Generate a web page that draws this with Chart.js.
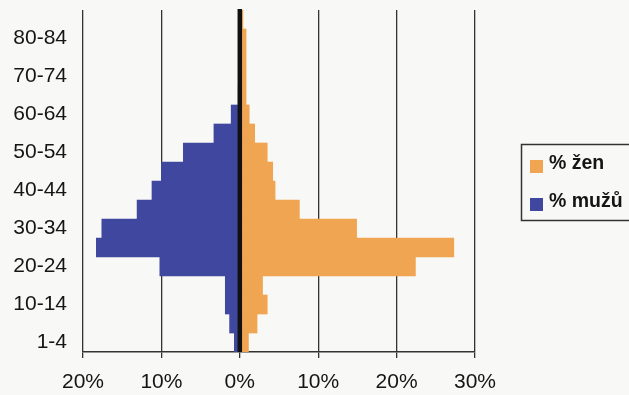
<!DOCTYPE html>
<html>
<head>
<meta charset="utf-8">
<script src="https://cdn.jsdelivr.net/npm/chart.js@4.4.1/dist/chart.umd.min.js"></script>
<style>
  html, body { margin: 0; padding: 0; background: #f8f8f6; }
  #wrap { width: 629px; height: 395px; position: relative; }
</style>
</head>
<body>
<div id="wrap"><canvas id="c"></canvas></div>
<script>
// Age groups, youngest first (drawn bottom to top)
const ageGroups = ['1-4','5-9','10-14','15-19','20-24','25-29','30-34','35-39','40-44',
                   '45-49','50-54','55-59','60-64','65-69','70-74','75-79','80-84','85+'];
// Share of men per age group, in percent
const menPct   = [0.7, 1.3, 1.85, 1.85, 10.2, 18.3, 17.6, 13.1, 11.2,
                  10.0, 7.2, 3.3, 1.1, 0.2, 0.15, 0.15, 0.15, 0.1];
// Share of women per age group, in percent
const womenPct = [1.1, 2.2, 3.5, 2.9, 22.4, 27.3, 14.9, 7.6, 4.5,
                  4.2, 3.5, 1.9, 1.2, 0.8, 0.8, 0.8, 0.8, 0.4];
const xTickValues = [-20, -10, 0, 10, 20, 30];
const seriesNames = ['% žen', '% mužů'];

const ORANGE = '#f0a552';
const BLUE = '#3f489e';
const FONT = "'Liberation Sans', Arial, sans-serif";

// Heavy vertical axis at 0 %, painted over the bars
const zeroAxis = {
  id: 'zeroAxis',
  afterDatasetsDraw(chart) {
    const { ctx, chartArea, scales } = chart;
    const x = scales.x.getPixelForValue(0);
    ctx.save();
    ctx.strokeStyle = '#111';
    ctx.lineWidth = 4.5;
    ctx.beginPath();
    ctx.moveTo(x, chartArea.top - 1);
    ctx.lineTo(x, chartArea.bottom);
    ctx.stroke();
    ctx.restore();
  }
};

// Boxed legend on the right, women first
const boxedLegend = {
  id: 'boxedLegend',
  afterDraw(chart) {
    const ctx = chart.ctx;
    const items = [chart.data.datasets[1], chart.data.datasets[0]];
    ctx.save();
    ctx.strokeStyle = '#333';
    ctx.lineWidth = 1.5;
    ctx.strokeRect(521.5, 144.5, 130, 76);
    ctx.font = 'bold 19.5px ' + FONT;
    ctx.textBaseline = 'middle';
    items.forEach((ds, i) => {
      const top = 160 + i * 38;
      ctx.fillStyle = ds.backgroundColor;
      ctx.fillRect(530, top, 13, 13);
      ctx.fillStyle = '#151515';
      ctx.fillText(ds.label, 549, top + 4);
    });
    ctx.restore();
  }
};

new Chart(document.getElementById('c'), {
  type: 'bar',
  data: {
    labels: ageGroups,
    datasets: [
      { label: seriesNames[1], data: menPct.map(v => -v), backgroundColor: BLUE,
        barPercentage: 1, categoryPercentage: 1, borderWidth: 0 },
      { label: seriesNames[0], data: womenPct, backgroundColor: ORANGE,
        barPercentage: 1, categoryPercentage: 1, borderWidth: 0 }
    ]
  },
  options: {
    indexAxis: 'y',
    responsive: true,
    maintainAspectRatio: false,
    animation: false,
    devicePixelRatio: 1,
    layout: { padding: { top: 10, right: 154, left: 0, bottom: 0 } },
    plugins: { legend: { display: false }, tooltip: { enabled: false } },
    scales: {
      x: {
        type: 'linear',
        stacked: true,
        min: xTickValues[0],
        max: xTickValues[xTickValues.length - 1],
        afterBuildTicks(scale) { scale.ticks = xTickValues.map(v => ({ value: v })); },
        afterFit(scale) {
          scale.height = 43;
          scale.paddingLeft = 0; scale.paddingRight = 0;
        },
        ticks: {
          callback: v => Math.abs(v) + '%',
          color: '#151515',
          font: { family: FONT, size: 21 },
          padding: 12,
          maxRotation: 0
        },
        grid: { color: '#333', lineWidth: 1.3, tickLength: 6, drawTicks: true },
        border: { display: true, color: '#333', width: 1.5 }
      },
      y: {
        type: 'category',
        stacked: true,
        reverse: true,
        afterFit(scale) {
          scale.width = 83;
          scale.paddingTop = 0; scale.paddingBottom = 0;
        },
        ticks: {
          autoSkip: false,
          callback: (v, i) => (i % 2 === 0 ? ageGroups[i] : ''),
          color: '#151515',
          font: { family: FONT, size: 21 },
          padding: 16
        },
        grid: { display: false, drawTicks: false },
        border: { display: false }
      }
    }
  },
  plugins: [zeroAxis, boxedLegend]
});
</script>
</body>
</html>
